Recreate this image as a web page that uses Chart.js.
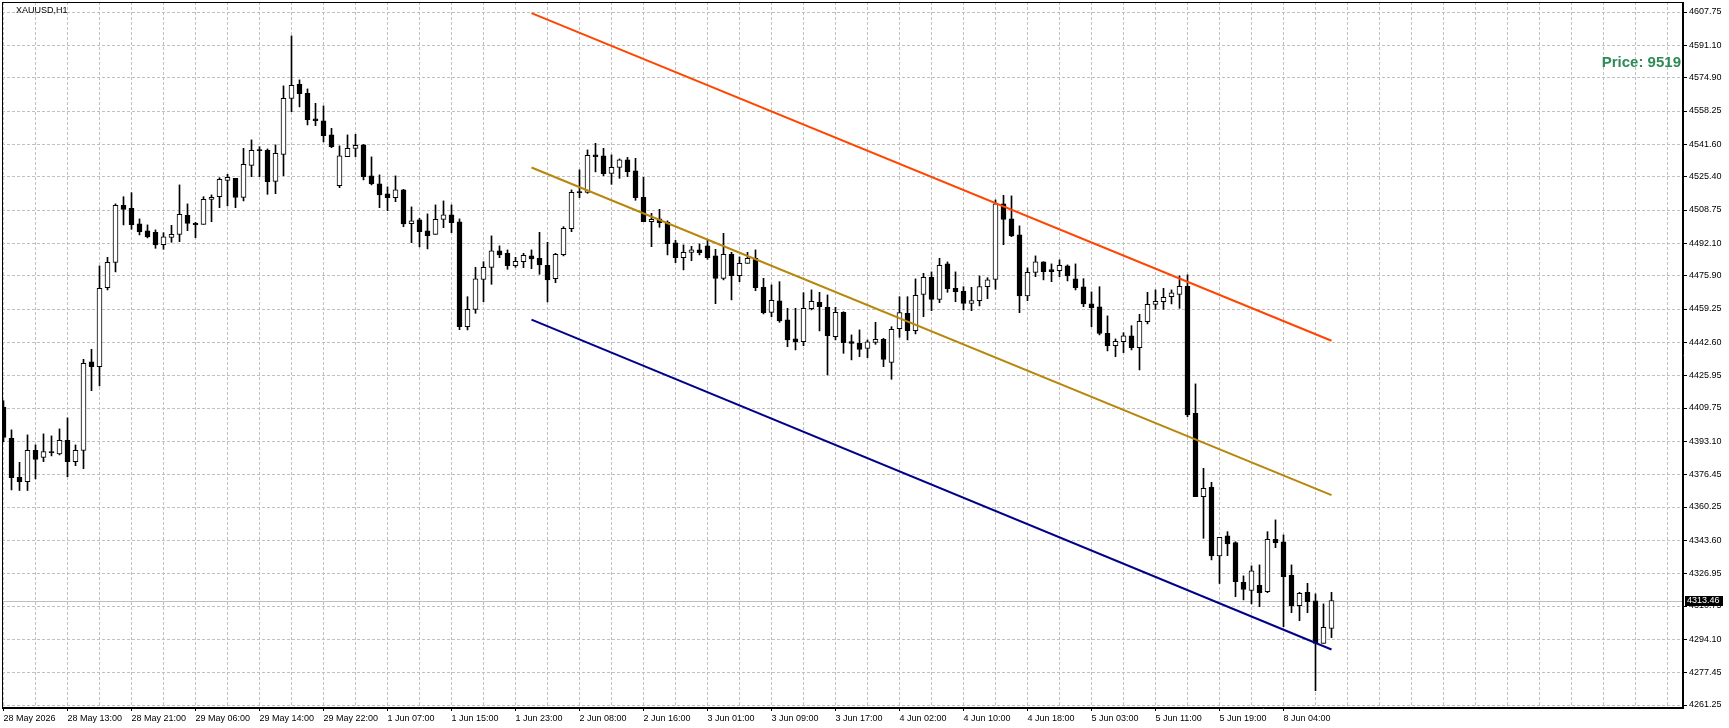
<!DOCTYPE html>
<html lang="ru">
<head>
<meta charset="utf-8">
<title>XAUUSD,H1</title>
<script src="https://cdn.jsdelivr.net/npm/chart.js@4.4.1/dist/chart.umd.min.js"></script>
<style>
  html, body { margin: 0; padding: 0; background: #fff; }
  .chart-box { position: relative; width: 1729px; height: 728px; }
  .symbol { position: absolute; left: 16px; top: 5px; font: 9px "Liberation Sans", Arial, sans-serif; color: #000; }
  .price-note { position: absolute; right: 48px; top: 53px; font: bold 15px "Liberation Sans", Arial, sans-serif; color: #2e8b57; }
</style>
</head>
<body>
<div class="chart-box">
  <canvas id="priceChart"></canvas>
  <div class="symbol">XAUUSD,H1</div>
  <div class="price-note">Price: 9519</div>
</div>
<script>
// Свечи H1: открытие, максимум, минимум, закрытие
const opens = [
  4410.1, 4394.6, 4375.1, 4372.9, 4388.6, 4385.1, 4387.9, 4386.8, 4393.6, 4382.9,
  4388.6, 4432.8, 4430.4, 4469.9, 4482.6, 4511.1, 4509.6, 4501.8, 4498.3, 4497.6,
  4491.4, 4495.1, 4496.6, 4506.1, 4502.1, 4501.6, 4514.1, 4515.4, 4523.6, 4524.6,
  4515.1, 4531.1, 4538.6, 4538.6, 4523.1, 4536.6, 4564.6, 4571.6, 4567.1, 4554.3,
  4553.3, 4546.3, 4520.9, 4535.4, 4539.6, 4541.3, 4525.8, 4521.8, 4516.8, 4514.9,
  4518.8, 4501.9, 4503.8, 4498.3, 4496.6, 4504.1, 4506.3, 4502.8, 4450.4, 4459.1,
  4474.1, 4480.1, 4488.3, 4487.1, 4480.9, 4482.9, 4485.8, 4484.6, 4481.1, 4474.4,
  4486.4, 4499.4, 4517.8, 4517.6, 4536.3, 4535.8, 4527.1, 4530.1, 4533.8, 4528.3,
  4515.1, 4502.9, 4504.3, 4502.6, 4492.3, 4484.9, 4487.6, 4488.8, 4490.8, 4485.8,
  4474.6, 4486.6, 4475.9, 4482.1, 4484.6, 4470.1, 4457.6, 4463.3, 4453.8, 4444.3,
  4442.9, 4459.4, 4462.6, 4460.1, 4445.4, 4457.6, 4442.9, 4442.1, 4439.6, 4442.6,
  4444.1, 4432.6, 4449.4, 4457.1, 4448.4, 4466.6, 4475.1, 4464.1, 4481.8, 4469.6,
  4468.1, 4462.1, 4463.4, 4470.4, 4474.1, 4511.8, 4504.3, 4496.3, 4465.8, 4477.6,
  4482.8, 4478.9, 4478.4, 4480.8, 4474.3, 4470.3, 4461.8, 4460.3, 4447.1, 4440.9,
  4442.9, 4445.8, 4439.9, 4452.9, 4461.6, 4462.9, 4465.4, 4466.6, 4470.6, 4407.1,
  4365.4, 4370.1, 4335.8, 4345.8, 4342.4, 4322.6, 4318.6, 4321.1, 4317.9, 4344.1,
  4342.8, 4326.1, 4310.9, 4317.6, 4313.3, 4292.1, 4299.6
];
const highs = [
  4413.4, 4398.8, 4382.6, 4396.3, 4391.3, 4396.8, 4395.8, 4399.3, 4404.8, 4391.3,
  4434.1, 4439.1, 4480.8, 4485.1, 4511.8, 4515.4, 4517.4, 4504.3, 4501.3, 4498.8,
  4497.4, 4501.1, 4521.3, 4511.8, 4502.6, 4515.4, 4516.3, 4524.9, 4526.6, 4524.6,
  4539.6, 4543.8, 4540.4, 4539.3, 4541.3, 4570.8, 4595.8, 4573.8, 4569.3, 4562.1,
  4560.8, 4549.6, 4540.8, 4546.3, 4546.6, 4541.6, 4535.3, 4526.3, 4520.3, 4525.8,
  4519.1, 4510.3, 4504.6, 4506.8, 4511.3, 4513.3, 4511.3, 4504.3, 4465.4, 4480.1,
  4482.9, 4495.8, 4490.8, 4488.8, 4485.1, 4487.1, 4488.8, 4497.6, 4492.6, 4487.1,
  4500.4, 4518.8, 4528.8, 4538.8, 4542.1, 4539.6, 4536.3, 4534.3, 4535.1, 4534.6,
  4525.1, 4507.1, 4509.1, 4503.3, 4493.6, 4491.3, 4490.6, 4491.8, 4493.8, 4489.1,
  4497.1, 4487.6, 4485.3, 4487.6, 4488.8, 4474.6, 4471.3, 4472.9, 4459.6, 4459.6,
  4467.4, 4468.8, 4467.6, 4466.3, 4460.1, 4457.9, 4446.3, 4448.8, 4443.8, 4452.6,
  4444.6, 4450.4, 4465.4, 4465.4, 4474.3, 4477.1, 4477.8, 4484.6, 4482.8, 4477.8,
  4470.4, 4470.1, 4475.8, 4474.9, 4513.8, 4516.1, 4515.8, 4500.8, 4479.8, 4485.8,
  4482.9, 4481.8, 4483.8, 4481.3, 4481.8, 4474.4, 4467.8, 4470.4, 4455.8, 4444.3,
  4447.4, 4450.9, 4456.6, 4467.6, 4468.8, 4469.6, 4468.8, 4475.8, 4476.3, 4421.8,
  4379.6, 4372.6, 4345.1, 4347.9, 4342.9, 4325.8, 4330.8, 4331.3, 4347.9, 4353.8,
  4346.3, 4331.3, 4317.6, 4322.1, 4316.8, 4311.8, 4317.6
];
const lows = [
  4392.9, 4368.8, 4368.5, 4368.5, 4374.3, 4382.9, 4385.8, 4386.3, 4375.4, 4380.9,
  4379.4, 4418.4, 4420.8, 4468.8, 4477.8, 4501.3, 4499.1, 4496.3, 4494.8, 4489.6,
  4489.1, 4492.6, 4492.9, 4498.4, 4494.9, 4501.6, 4502.9, 4509.9, 4510.8, 4509.9,
  4513.3, 4525.4, 4525.4, 4516.6, 4516.9, 4525.9, 4557.9, 4560.3, 4551.3, 4550.9,
  4542.8, 4539.9, 4519.9, 4535.4, 4535.4, 4523.8, 4521.3, 4509.9, 4508.4, 4512.9,
  4500.4, 4492.4, 4490.3, 4489.3, 4496.6, 4499.9, 4497.4, 4448.9, 4448.8, 4457.1,
  4462.9, 4471.6, 4484.9, 4479.1, 4480.1, 4479.9, 4479.4, 4476.6, 4462.8, 4472.4,
  4485.8, 4497.9, 4514.9, 4517.1, 4527.8, 4525.9, 4521.6, 4524.6, 4525.4, 4513.6,
  4502.9, 4490.4, 4500.1, 4486.3, 4482.4, 4478.8, 4483.4, 4486.3, 4484.1, 4461.9,
  4473.8, 4463.8, 4472.9, 4482.1, 4468.4, 4456.8, 4455.4, 4452.6, 4440.4, 4438.8,
  4440.9, 4458.8, 4448.3, 4426.3, 4443.8, 4437.1, 4433.8, 4435.4, 4434.9, 4441.6,
  4430.4, 4424.1, 4445.1, 4443.8, 4446.8, 4455.4, 4458.4, 4462.4, 4467.6, 4462.9,
  4458.8, 4458.4, 4460.8, 4464.4, 4469.1, 4491.4, 4495.4, 4457.4, 4463.4, 4475.4,
  4473.8, 4472.9, 4475.4, 4473.3, 4468.8, 4460.4, 4450.4, 4446.3, 4438.3, 4435.4,
  4437.4, 4438.8, 4428.8, 4451.8, 4459.1, 4459.1, 4461.8, 4459.6, 4405.4, 4365.4,
  4344.6, 4333.8, 4322.0, 4335.9, 4315.4, 4313.8, 4311.8, 4310.4, 4317.4, 4339.9,
  4300.4, 4307.4, 4303.4, 4307.4, 4268.4, 4292.1, 4294.9
];
const closes = [
  4395.1, 4374.9, 4372.9, 4388.6, 4384.1, 4387.9, 4387.4, 4393.6, 4382.9, 4388.6,
  4432.1, 4430.4, 4469.6, 4482.6, 4511.1, 4509.1, 4501.4, 4497.9, 4495.3, 4491.3,
  4495.3, 4496.6, 4506.6, 4502.1, 4501.4, 4514.1, 4515.1, 4524.1, 4525.1, 4515.1,
  4531.6, 4538.6, 4538.4, 4522.9, 4537.1, 4564.6, 4571.1, 4566.9, 4553.9, 4553.4,
  4545.9, 4540.4, 4535.8, 4539.6, 4541.1, 4525.4, 4521.8, 4516.3, 4514.9, 4518.8,
  4501.8, 4503.3, 4497.9, 4495.9, 4504.1, 4506.3, 4502.4, 4450.4, 4459.1, 4474.3,
  4480.1, 4488.3, 4486.3, 4480.9, 4483.1, 4486.1, 4484.3, 4481.3, 4473.8, 4486.6,
  4499.6, 4517.6, 4517.4, 4536.1, 4535.4, 4526.9, 4530.1, 4533.8, 4527.9, 4514.9,
  4502.9, 4504.1, 4502.4, 4491.9, 4484.9, 4487.6, 4488.8, 4487.4, 4484.9, 4474.6,
  4486.6, 4475.9, 4482.1, 4484.6, 4469.9, 4457.4, 4463.6, 4453.3, 4443.8, 4442.9,
  4459.6, 4463.1, 4460.4, 4445.9, 4457.6, 4442.4, 4442.1, 4439.1, 4442.8, 4444.1,
  4434.1, 4449.1, 4457.4, 4448.4, 4466.1, 4475.1, 4464.1, 4481.1, 4469.4, 4467.9,
  4462.1, 4463.4, 4470.4, 4473.8, 4511.8, 4504.1, 4495.8, 4465.8, 4477.6, 4482.8,
  4477.9, 4477.9, 4481.1, 4475.8, 4469.9, 4461.8, 4459.9, 4447.1, 4440.9, 4443.1,
  4445.8, 4439.9, 4453.1, 4461.6, 4463.1, 4465.1, 4467.3, 4470.6, 4406.3, 4365.4,
  4369.6, 4335.8, 4345.1, 4341.8, 4322.9, 4319.1, 4328.3, 4317.4, 4344.1, 4342.4,
  4325.4, 4310.9, 4317.1, 4312.9, 4292.1, 4300.1, 4313.46
];

// Подписи оси времени (каждые 8 баров)
const timeLabels = [
  "28 May 2026", "28 May 13:00", "28 May 21:00", "29 May 06:00", "29 May 14:00",
  "29 May 22:00", "1 Jun 07:00", "1 Jun 15:00", "1 Jun 23:00", "2 Jun 08:00",
  "2 Jun 16:00", "3 Jun 01:00", "3 Jun 09:00", "3 Jun 17:00", "4 Jun 02:00",
  "4 Jun 10:00", "4 Jun 18:00", "5 Jun 03:00", "5 Jun 11:00", "5 Jun 19:00",
  "8 Jun 04:00"
];

// Подписи ценовой шкалы
const priceTicks = [
  4607.75, 4591.10, 4574.90, 4558.25, 4541.60, 4525.40, 4508.75, 4492.10,
  4475.90, 4459.25, 4442.60, 4425.95, 4409.75, 4393.10, 4376.45, 4360.25,
  4343.60, 4326.95, 4310.75, 4294.10, 4277.45, 4261.25
];

const lastPrice = 4313.46;

// Канал: начальный и конечный бар, цены линий
const channelBars = [66, 166];
const upperLine = [4607.2, 4443.4];
const middleLine = [4530.0, 4366.2];
const lowerLine = [4453.9, 4289.0];

// Линия текущей цены и рамка графика
const framePlugin = {
  id: "frame",
  beforeDatasetsDraw(chart) {
    const { ctx, chartArea, scales } = chart;
    const y = Math.round(scales.y.getPixelForValue(lastPrice)) + 0.5;
    ctx.save();
    ctx.strokeStyle = "#c0c0c0";
    ctx.lineWidth = 1;
    ctx.beginPath();
    ctx.moveTo(chartArea.left, y);
    ctx.lineTo(chartArea.right, y);
    ctx.stroke();
    ctx.restore();
  },
  afterDraw(chart) {
    const { ctx, chartArea, scales } = chart;
    ctx.save();
    ctx.strokeStyle = "#000";
    ctx.lineWidth = 1;
    ctx.strokeRect(chartArea.left + 0.5, chartArea.top + 0.5, chartArea.width - 1, chartArea.height - 1);

    // Метка текущей цены на шкале
    const y = Math.round(scales.y.getPixelForValue(lastPrice));
    ctx.fillStyle = "#000";
    ctx.fillRect(chartArea.right + 2, y - 5, 38, 10);
    ctx.fillStyle = "#fff";
    ctx.font = '9px "Liberation Sans", Arial, sans-serif';
    ctx.textBaseline = "middle";
    ctx.fillText(lastPrice.toFixed(2), chartArea.right + 4, y);
    ctx.restore();
  },
};

function channelLine(values, color) {
  return {
    type: "line",
    data: channelBars.map((bar, k) => ({ x: bar, y: values[k] })),
    borderColor: color,
    borderWidth: 2,
    pointRadius: 0,
    order: 0,
  };
}

// Создает свечной график
function createCandleChart(canvasId) {
  const ctx = document.getElementById(canvasId).getContext("2d");

  const gridSteps = [];
  for (let i = 0; i <= 208; i += 4) gridSteps.push(i);

  const font = { family: "Liberation Sans", size: 9 };

  new Chart(ctx, {
    type: "bar",
    data: {
      datasets: [
        channelLine(upperLine, "#ff4500"),
        channelLine(middleLine, "#b8860b"),
        channelLine(lowerLine, "#00008b"),
        {
          label: "body",
          data: opens.map((o, i) => ({ x: i, y: [o, closes[i]] })),
          backgroundColor: opens.map((o, i) => (closes[i] >= o ? "#fff" : "#000")),
          borderColor: "#000",
          borderWidth: 1,
          borderSkipped: false,
          barThickness: 5,
          minBarLength: 1,
          grouped: false,
          order: 1,
        },
        {
          label: "wick",
          data: lows.map((l, i) => ({ x: i, y: [l, highs[i]] })),
          backgroundColor: "#000",
          barThickness: 1,
          grouped: false,
          order: 2,
        },
      ],
    },
    options: {
      responsive: true,
      maintainAspectRatio: false,
      animation: false,
      layout: { padding: { left: 2, top: 2, right: 0, bottom: 0 } },
      plugins: {
        legend: { display: false },
        tooltip: { enabled: false },
      },
      scales: {
        x: {
          type: "linear",
          min: -0.1875,
          max: 209.9375,
          offset: false,
          afterBuildTicks(scale) {
            scale.ticks = gridSteps.map((v) => ({ value: v }));
          },
          afterFit(scale) {
            scale.height = 20;
            scale.paddingLeft = 0;
            scale.paddingRight = 0;
          },
          grid: {
            offset: false,
            color: "#c0c0c0",
            tickLength: 3,
            tickBorderDash: [],
            tickColor: (c) => (c.tick && c.tick.value % 8 === 0 && c.tick.value <= 160 ? "#000" : "rgba(0,0,0,0)"),
          },
          border: { display: true, color: "#000", dash: [3, 2] },
          ticks: {
            font: font,
            color: "#000",
            align: "start",
            padding: 2,
            maxRotation: 0,
            autoSkip: false,
            callback: (v) => (v % 8 === 0 && v / 8 < timeLabels.length ? timeLabels[v / 8] : ""),
          },
        },
        y: {
          position: "right",
          min: 4259.75,
          max: 4612.75,
          afterBuildTicks(scale) {
            scale.ticks = priceTicks.map((v) => ({ value: v }));
          },
          afterFit(scale) {
            scale.width = 46;
            scale.paddingTop = 0;
            scale.paddingBottom = 0;
          },
          grid: {
            color: "#c0c0c0",
            tickLength: 4,
            tickBorderDash: [],
            tickColor: "#000",
          },
          border: { display: true, color: "#000", dash: [3, 2] },
          ticks: {
            font: font,
            color: "#000",
            padding: 2,
            callback: (v) => v.toFixed(2),
          },
        },
      },
    },
    plugins: [framePlugin],
  });
}

createCandleChart("priceChart");
</script>
</body>
</html>
